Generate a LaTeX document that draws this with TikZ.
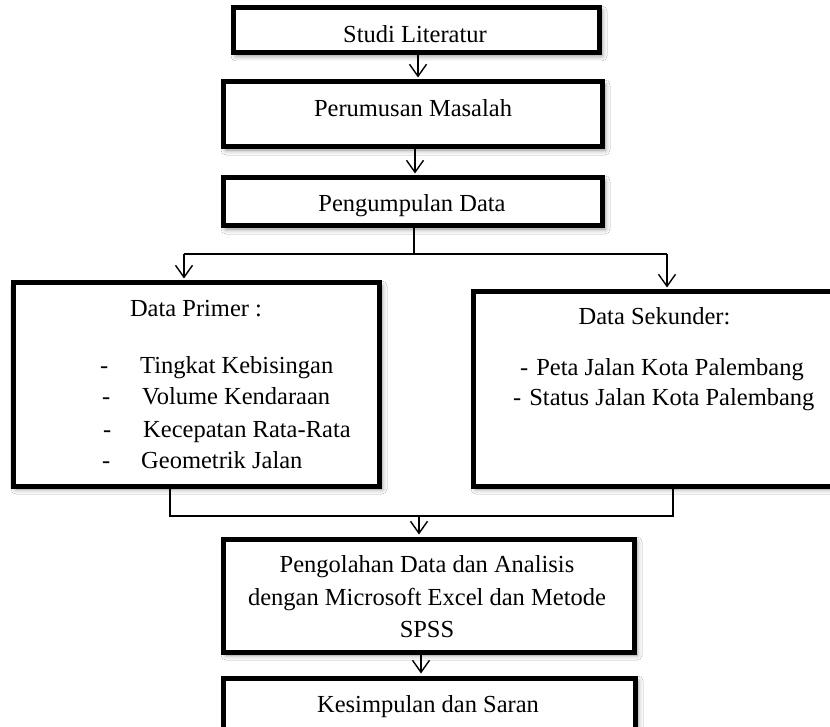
\documentclass[tikz,border=0pt]{standalone}
\usepackage{fontspec}
\setmainfont{Liberation Serif}
\usetikzlibrary{arrows.meta,shadows.blur}
\begin{document}
\begin{tikzpicture}[x=1pt,y=-1pt,
  flowbox/.style={draw=black, line width=5pt, fill=white, inner sep=0pt,
    blur shadow={shadow xshift=3pt, shadow yshift=-3pt, shadow blur radius=5pt, shadow opacity=45}},
  txt/.style={font=\fontsize{24.5}{32}\selectfont, inner sep=0pt, anchor=base},
  item/.style={txt, anchor=base west},
  conn/.style={line width=1.4pt},
  arr/.style={conn, shorten >=2pt, -{Straight Barb[length=12pt,width=17pt,line width=1.4pt]}}]
\useasboundingbox (0,0) rectangle (830,727);
\clip (0,0) rectangle (830,727);
\fill[white] (0,0) rectangle (830,727);

% boxes
\node[flowbox, minimum width=366pt, minimum height=45pt] (b1) at (416,30.5) {};
\node[flowbox, minimum width=379pt, minimum height=65pt] (b2) at (412.5,114.5) {};
\node[flowbox, minimum width=379pt, minimum height=48pt] (b3) at (412.5,202) {};
\node[flowbox, minimum width=366pt, minimum height=203pt] (prim) at (196,384.5) {};
\node[flowbox, minimum width=372pt, minimum height=194pt] (sek) at (659,389) {};
\node[flowbox, minimum width=411pt, minimum height=113pt] (b5) at (428.5,595.5) {};
\node[flowbox, minimum width=412pt, minimum height=67pt] (b6) at (429,711.5) {};

% texts
\node[txt] (t1) at (415,43) {Studi Literatur};
\node[txt] (t2) at (413,117) {Perumusan Masalah};
\node[txt] (t3) at (412,212) {Pengumpulan Data};
\node[txt] (tp) at (196,317) {Data Primer :};
\node[item] (dp1) at (100,373) {-};
\node[item] (ip1) at (140,373) {Tingkat Kebisingan};
\node[item] (dp2) at (102,404) {-};
\node[item] (ip2) at (142,404) {Volume Kendaraan};
\node[item] (dp3) at (103,437) {-};
\node[item] (ip3) at (143,437) {Kecepatan Rata-Rata};
\node[item] (dp4) at (102,468) {-};
\node[item] (ip4) at (141,468) {Geometrik Jalan};
\node[txt] (ts) at (654.5,325) {Data Sekunder:};
\node[item] (is1) at (520,375) {-\hspace{8pt}Peta Jalan Kota Palembang};
\node[item] (is2) at (513,405) {-\hspace{8pt}Status Jalan Kota Palembang};
\node[txt] (t5a) at (427,572) {Pengolahan Data dan Analisis};
\node[txt] (t5b) at (427,605) {dengan Microsoft Excel dan Metode};
\node[txt] (t5c) at (427,637) {SPSS};
\node[txt] (t6) at (428,712) {Kesimpulan dan Saran};

% connectors
\coordinate (a1) at (418,0);
\draw[arr] (a1 |- b1.south) -- (a1 |- b2.north);
\coordinate (a2) at (415,0);
\draw[arr] (a2 |- b2.south) -- (a2 |- b3.north);
\coordinate (j1) at (414,254);
\coordinate (pa) at (184,254);
\coordinate (sa) at (667,254);
\draw[conn] (j1 |- b3.south) -- (j1);
\draw[conn] (pa) -- (sa);
\draw[arr] (pa) -- (pa |- prim.north);
\draw[arr] (sa) -- (sa |- sek.north);
\coordinate (pb) at (170,516);
\coordinate (sb) at (673,516);
\coordinate (j2) at (419,516);
\draw[conn] (pb |- prim.south) -- (pb) -- (sb) -- (sb |- sek.south);
\draw[arr] (j2) -- (j2 |- b5.north);
\coordinate (a5) at (421,0);
\draw[arr] (a5 |- b5.south) -- (a5 |- b6.north);
\end{tikzpicture}
\end{document}
